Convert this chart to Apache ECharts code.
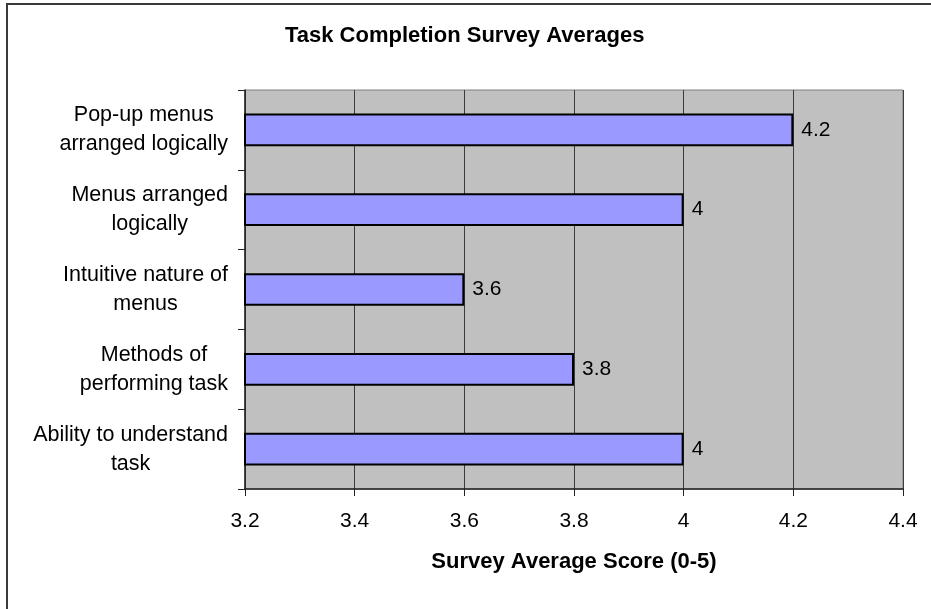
<!DOCTYPE html>
<html>
<head>
<meta charset="utf-8">
<script src="https://cdn.jsdelivr.net/npm/echarts@6/dist/echarts.min.js"></script>
<style>
html,body{margin:0;padding:0;background:#fff;}
#chart{width:931px;height:609px;}
</style>
</head>
<body>
<div id="chart"></div>
<script>
const categories = [
  "Pop-up menus\narranged logically",
  "Menus arranged\nlogically",
  "Intuitive nature of\nmenus",
  "Methods of\nperforming task",
  "Ability to understand\ntask"
];
const scores = [4.2, 4.0, 3.6, 3.8, 4.0];
const xTicks = [3.2, 3.4, 3.6, 3.8, 4.0, 4.2, 4.4];

const FONT = '"Liberation Sans", Arial, sans-serif';
const chart = echarts.init(document.getElementById('chart'), null, {renderer: 'canvas'});
chart.setOption({
  animation: false,
  backgroundColor: '#ffffff',
  title: {
    text: 'Task Completion Survey Averages',
    left: 280,
    top: 20,
    textStyle: {fontFamily: FONT, fontSize: 22, fontWeight: 'bold', color: '#000'}
  },
  graphic: [{
    type: 'rect',
    shape: {x: 7, y: 4, width: 1000, height: 1000},
    style: {fill: 'none', stroke: '#3a3a3a', lineWidth: 2},
    silent: true, z: 100
  }],
  grid: {
    left: 245, right: 28, top: 90, bottom: 120,
    show: true, backgroundColor: '#C0C0C0', borderColor: '#808080', borderWidth: 1
  },
  xAxis: {
    type: 'value',
    min: xTicks[0], max: xTicks[xTicks.length - 1], interval: 0.2,
    name: 'Survey Average Score (0-5)',
    nameLocation: 'middle', nameGap: 62,
    nameTextStyle: {fontFamily: FONT, fontSize: 22, fontWeight: 'bold', color: '#000'},
    axisLine: {show: true, lineStyle: {color: '#222', width: 1.5}},
    axisTick: {show: true, length: 7, lineStyle: {color: '#222'}},
    axisLabel: {
      fontFamily: FONT, fontSize: 21, color: '#000', margin: 22,
      formatter: v => String(Math.round(v * 10) / 10)
    },
    splitLine: {show: true, lineStyle: {color: '#3c3c3c', width: 1}}
  },
  yAxis: {
    type: 'category',
    data: categories,
    inverse: true,
    axisLine: {show: true, lineStyle: {color: '#222', width: 1.5}},
    axisTick: {show: true, length: 7, lineStyle: {color: '#222'}},
    axisLabel: {
      fontFamily: FONT, fontSize: 21.5, color: '#000', align: 'right',
      margin: 17, lineHeight: 29,
      formatter: v => v.split('\n').map(l => '{c|' + l + '}').join('\n'),
      rich: {c: {align: 'center', fontFamily: FONT, fontSize: 21.5, lineHeight: 29, color: '#000'}}
    },
    splitLine: {show: false}
  },
  series: [{
    type: 'bar',
    data: scores,
    barWidth: '41%',
    itemStyle: {color: '#9999FF', borderColor: '#000', borderWidth: 2},
    label: {
      show: true, position: 'right', distance: 8,
      fontFamily: FONT, fontSize: 21, color: '#000',
      formatter: p => String(p.value)
    }
  }]
});
</script>
</body>
</html>
